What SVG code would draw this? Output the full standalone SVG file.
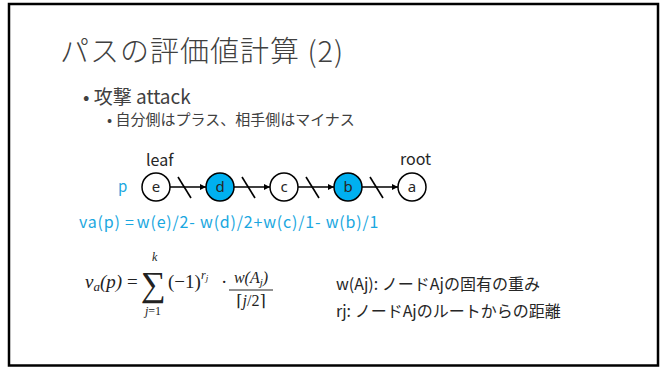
<svg xmlns="http://www.w3.org/2000/svg" width="666" height="367" viewBox="0 0 666 367">
<style>
.jp{font-family:"Noto Sans CJK JP","Noto Sans",sans-serif;fill:#404040}
.lbl{font-family:"Noto Sans CJK JP","Noto Sans",sans-serif;fill:#262626;font-size:16px}
.blue{font-family:"Noto Sans CJK JP","Noto Sans",sans-serif;fill:#1aa7e0}
.node circle{stroke:#000;stroke-width:1.5}
.node text{font-family:"Noto Sans","Liberation Sans",sans-serif;font-size:15px;fill:#262626;text-anchor:middle}
.edge line{stroke:#000;stroke-width:1.6}
.math{font-family:"Liberation Serif","DejaVu Serif",serif;fill:#222}
</style>
<defs>
<marker id="ah" viewBox="0 0 10 10" refX="10" refY="5" markerWidth="6" markerHeight="6" orient="auto" markerUnits="userSpaceOnUse">
<path d="M0,0 L10,5 L0,10 z" fill="#000"/>
</marker>
</defs>
<rect x="0" y="0" width="666" height="367" fill="#fff"/>
<rect x="9" y="4" width="649" height="361.5" fill="none" stroke="#000" stroke-width="2.5"/>

<text class="jp" x="60" y="62" font-size="29" font-weight="300" letter-spacing="1">パスの評価値計算 (2)</text>
<text class="jp" x="83" y="104" font-size="19">• 攻撃 attack</text>
<text class="jp" x="107" y="125" font-size="15">• 自分側はプラス、相手側はマイナス</text>

<text class="lbl" x="146" y="166">leaf</text>
<text class="lbl" x="400" y="165">root</text>
<text class="blue" x="118" y="192" font-size="15">p</text>

<g id="connectors" class="edge">
<line x1="170" y1="187" x2="206" y2="187" marker-end="url(#ah)"/>
<line x1="178" y1="177" x2="191" y2="198"/>
<line x1="234" y1="187" x2="270" y2="187" marker-end="url(#ah)"/>
<line x1="242" y1="177" x2="255" y2="198"/>
<line x1="298" y1="187" x2="334" y2="187" marker-end="url(#ah)"/>
<line x1="306" y1="177" x2="319" y2="198"/>
<line x1="362" y1="187" x2="398" y2="187" marker-end="url(#ah)"/>
<line x1="370" y1="177" x2="383" y2="198"/>
</g>

<g id="node-e" class="node"><circle cx="156" cy="187" r="14" fill="#fff"/><text x="156" y="192">e</text></g>
<g id="node-d" class="node"><circle cx="220" cy="187" r="14" fill="#00b0f0"/><text x="220" y="192">d</text></g>
<g id="node-c" class="node"><circle cx="284" cy="187" r="14" fill="#fff"/><text x="284" y="192">c</text></g>
<g id="node-b" class="node"><circle cx="348" cy="187" r="14" fill="#00b0f0"/><text x="348" y="192">b</text></g>
<g id="node-a" class="node"><circle cx="412" cy="187" r="14" fill="#fff"/><text x="412" y="192">a</text></g>

<text class="blue" x="79" y="228" font-size="16" letter-spacing="0.8">va(p) =<tspan dx="2">w(e)/2- w(d)/2+w(c)/1- w(b)/1</tspan></text>

<g class="math">
<text x="85" y="288" font-size="19" font-style="italic">v<tspan font-size="13" dy="3">a</tspan><tspan dy="-3">(p)</tspan></text>
<text x="127" y="288" font-size="19">=</text>
<text x="141" y="296" font-size="35">∑</text>
<text x="152" y="261" font-size="12" font-style="italic">k</text>
<text x="145" y="315" font-size="12"><tspan font-style="italic">j</tspan>=1</text>
<text x="168" y="288" font-size="19">(−1)</text>
<text x="201" y="279" font-size="12" font-style="italic">r<tspan font-size="9" dy="2">j</tspan></text>
<text x="221" y="288" font-size="19">·</text>
<text x="251" y="283" font-size="16" font-style="italic" text-anchor="middle">w(A<tspan font-size="11" dy="3">j</tspan><tspan dy="-3">)</tspan></text>
<line x1="229" y1="290" x2="273" y2="290" stroke="#222" stroke-width="1"/>
<text x="251" y="306" font-size="16" text-anchor="middle">⌈<tspan font-style="italic">j</tspan>/2⌉</text>
</g>

<text class="lbl" x="336" y="290">w(Aj): ノードAjの固有の重み</text>
<text class="lbl" x="336" y="317">rj: ノードAjのルートからの距離</text>
</svg>
